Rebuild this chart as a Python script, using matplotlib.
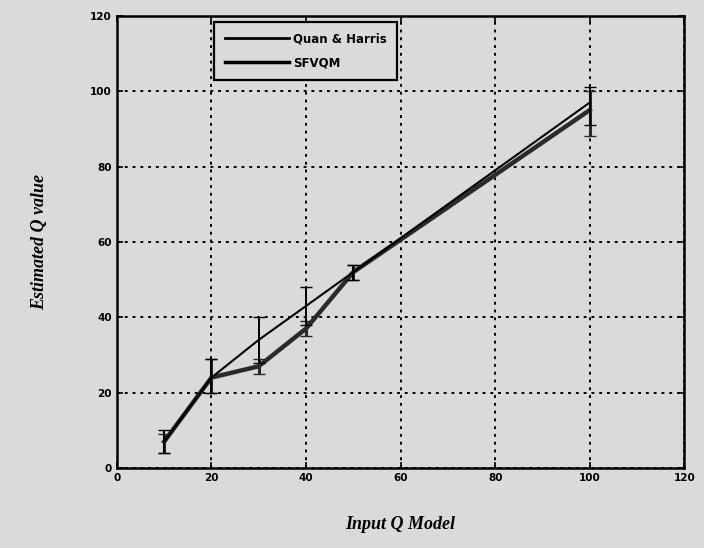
import matplotlib.pyplot as plt
from matplotlib.lines import Line2D

# Data
input_q = [10, 20, 30, 40, 50, 100]

qh_est = [7, 24, 34, 43, 52, 97]
qh_err_low = [3, 4, 6, 5, 2, 6]
qh_err_high = [3, 5, 6, 5, 2, 4]

sfvqm_est = [7, 24, 27, 37, 52, 95]
sfvqm_err_low = [3, 4, 2, 2, 2, 7]
sfvqm_err_high = [2, 5, 2, 2, 2, 5]

ticks = [0, 20, 40, 60, 80, 100, 120]
BG = "#dadada"


def main():
    fig = plt.figure(figsize=(7.04, 5.48), dpi=100, facecolor=BG)
    ax = fig.add_axes([0.166, 0.146, 0.806, 0.825], facecolor=BG)

    ax.errorbar(input_q, qh_est, yerr=[qh_err_low, qh_err_high],
                color="black", lw=1.5, elinewidth=1.4, capsize=4, zorder=4)
    ax.errorbar(input_q, sfvqm_est, yerr=[sfvqm_err_low, sfvqm_err_high],
                color="#2a2a2a", lw=3.2, elinewidth=2.2, capsize=4, zorder=3)

    ax.set_xlim(0, 120)
    ax.set_ylim(0, 120)
    ax.set_xticks(ticks)
    ax.set_yticks(ticks)
    ax.grid(True, color="black", linestyle=(0, (1.5, 2.5)), lw=1.4)
    ax.tick_params(direction="in", top=True, right=True, length=4,
                   width=1.2, labelsize=7.5)
    for lbl in ax.get_xticklabels() + ax.get_yticklabels():
        lbl.set_fontweight("bold")
    for sp in ax.spines.values():
        sp.set_linewidth(1.8)

    ax.set_xlabel("Input Q Model", family="Liberation Serif", style="italic",
                  weight="bold", fontsize=13, labelpad=24)
    ax.set_ylabel("Estimated Q value", family="Liberation Serif",
                  style="italic", weight="bold", fontsize=13, labelpad=30)

    handles = [Line2D([], [], color="black", lw=2),
               Line2D([], [], color="black", lw=2.5)]
    leg = ax.legend(handles, ["Quan & Harris", "SFVQM"], loc="upper left",
                    bbox_to_anchor=(0.171, 0.987), borderaxespad=0,
                    fancybox=False, edgecolor="black", facecolor=BG,
                    framealpha=1, handlelength=5.5, handletextpad=0.3,
                    borderpad=0.9, labelspacing=0.9,
                    prop={"weight": "bold", "size": 8.5})
    leg.get_frame().set_linewidth(1.6)
    leg.set_zorder(10)

    fig.savefig("out.png", dpi=100, facecolor=BG)


if __name__ == "__main__":
    main()
